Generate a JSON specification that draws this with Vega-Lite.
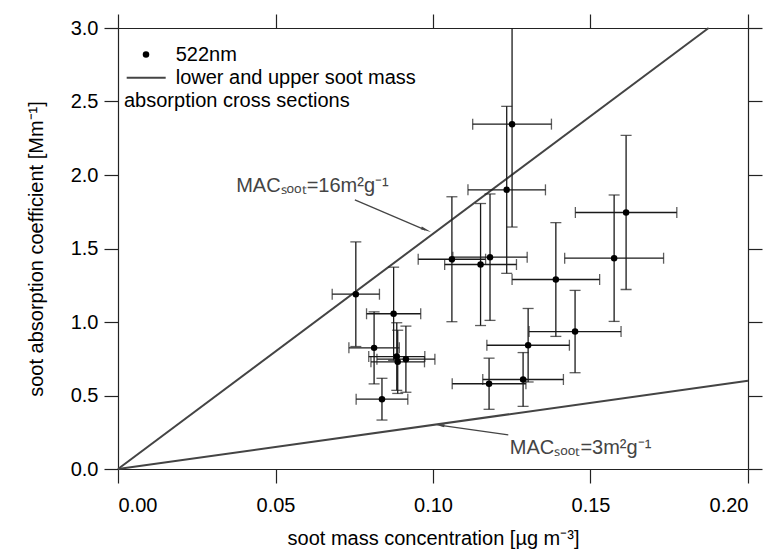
{
  "$schema": "https://vega.github.io/schema/vega-lite/v6.json",
  "width": 630,
  "height": 441,
  "autosize": {"type": "none"},
  "padding": {"left": 118, "top": 28, "right": 23, "bottom": 83},
  "background": "white",
  "config": {
    "view": {"stroke": null},
    "font": "Liberation Sans",
    "axis": {
      "domainColor": "#222",
      "tickColor": "#222",
      "domainWidth": 1.2,
      "tickWidth": 1.2,
      "tickSize": 14,
      "grid": false,
      "labelFont": "Liberation Sans",
      "titleFont": "Liberation Sans",
      "labelFontSize": 20,
      "titleFontSize": 20,
      "titleFontWeight": "normal",
      "labelColor": "#000",
      "titleColor": "#000"
    }
  },
  "datasets": {
    "pts": [
      {"x": 0.0755, "y": 1.189, "xerr": 0.0075, "yerr": 0.356},
      {"x": 0.0875, "y": 1.056, "xerr": 0.0086, "yerr": 0.317},
      {"x": 0.0813, "y": 0.824, "xerr": 0.008, "yerr": 0.245},
      {"x": 0.0838, "y": 0.475, "xerr": 0.0082, "yerr": 0.142},
      {"x": 0.0885, "y": 0.765, "xerr": 0.0089, "yerr": 0.23},
      {"x": 0.0888, "y": 0.729, "xerr": 0.0085, "yerr": 0.215},
      {"x": 0.0914, "y": 0.747, "xerr": 0.0092, "yerr": 0.225},
      {"x": 0.1251, "y": 2.346, "xerr": 0.0125, "yerr": 0.7},
      {"x": 0.1234, "y": 1.899, "xerr": 0.0123, "yerr": 0.568},
      {"x": 0.106, "y": 1.427, "xerr": 0.0107, "yerr": 0.425},
      {"x": 0.1151, "y": 1.391, "xerr": 0.0114, "yerr": 0.415},
      {"x": 0.1181, "y": 1.441, "xerr": 0.0118, "yerr": 0.43},
      {"x": 0.139, "y": 1.289, "xerr": 0.0139, "yerr": 0.387},
      {"x": 0.1575, "y": 1.434, "xerr": 0.0157, "yerr": 0.43},
      {"x": 0.1613, "y": 1.745, "xerr": 0.0161, "yerr": 0.524},
      {"x": 0.1451, "y": 0.935, "xerr": 0.0146, "yerr": 0.28},
      {"x": 0.1302, "y": 0.842, "xerr": 0.0131, "yerr": 0.25},
      {"x": 0.1178, "y": 0.58, "xerr": 0.0117, "yerr": 0.174},
      {"x": 0.1286, "y": 0.609, "xerr": 0.0128, "yerr": 0.183}
    ],
    "mac": [
      {"series": "16", "x": 0, "y": 0},
      {"series": "16", "x": 0.1875, "y": 3.0},
      {"series": "3", "x": 0, "y": 0},
      {"series": "3", "x": 0.2, "y": 0.6}
    ]
  },
  "resolve": {"axis": {"x": "independent", "y": "independent"}},
  "layer": [
    {
      "data": {"name": "mac"},
      "mark": {"type": "line", "color": "#444", "strokeWidth": 2},
      "encoding": {
        "x": {"field": "x", "type": "quantitative", "scale": {"domain": [0, 0.2], "nice": false},
              "axis": {"orient": "bottom", "values": [0, 0.05, 0.1, 0.15, 0.2], "format": ".2f", "labelPadding": 12, "titlePadding": 13, "title": "soot mass concentration [µg m⁻³]"}},
        "y": {"field": "y", "type": "quantitative", "scale": {"domain": [0, 3], "nice": false},
              "axis": {"orient": "left", "values": [0, 0.5, 1, 1.5, 2, 2.5, 3], "format": ".1f", "labelPadding": 6, "titlePadding": 24, "title": "soot absorption coefficient [Mm⁻¹]"}},
        "detail": {"field": "series"}
      }
    },
    {
      "data": {"name": "mac"},
      "mark": {"type": "line", "opacity": 0},
      "encoding": {
        "x": {"field": "x", "type": "quantitative", "scale": {"domain": [0, 0.2], "nice": false},
              "axis": {"orient": "top", "values": [0, 0.05, 0.1, 0.15, 0.2], "labels": false, "title": null}},
        "y": {"field": "y", "type": "quantitative", "scale": {"domain": [0, 3], "nice": false},
              "axis": {"orient": "right", "values": [0, 0.5, 1, 1.5, 2, 2.5, 3], "labels": false, "title": null}},
        "detail": {"field": "series"}
      }
    },
    {
      "data": {"name": "pts"},
      "mark": {"type": "errorbar", "color": "#1a1a1a", "thickness": 1.3, "ticks": {"size": 11, "thickness": 1.3, "color": "#1a1a1a"}},
      "encoding": {
        "x": {"field": "x", "type": "quantitative", "scale": {"domain": [0, 0.2], "nice": false}, "axis": null},
        "xError": {"field": "xerr"},
        "y": {"field": "y", "type": "quantitative", "scale": {"domain": [0, 3], "nice": false}, "axis": null}
      }
    },
    {
      "data": {"name": "pts"},
      "mark": {"type": "errorbar", "clip": true, "color": "#1a1a1a", "thickness": 1.3, "ticks": {"size": 11, "thickness": 1.3, "color": "#1a1a1a"}},
      "encoding": {
        "y": {"field": "y", "type": "quantitative", "scale": {"domain": [0, 3], "nice": false}, "axis": null},
        "yError": {"field": "yerr"},
        "x": {"field": "x", "type": "quantitative", "scale": {"domain": [0, 0.2], "nice": false}, "axis": null}
      }
    },
    {
      "data": {"name": "pts"},
      "mark": {"type": "point", "filled": true, "color": "#000", "opacity": 1, "size": 42},
      "encoding": {
        "x": {"field": "x", "type": "quantitative", "axis": null},
        "y": {"field": "y", "type": "quantitative", "axis": null}
      }
    },
    {
      "data": {"values": [{"x": 0.00889, "y": 2.82}]},
      "mark": {"type": "point", "filled": true, "color": "#000", "opacity": 1, "size": 42},
      "encoding": {
        "x": {"field": "x", "type": "quantitative", "axis": null},
        "y": {"field": "y", "type": "quantitative", "axis": null}
      }
    },
    {
      "data": {"values": [{"x": 0.00276, "x2": 0.01514, "y": 2.661}]},
      "mark": {"type": "rule", "color": "#444", "strokeWidth": 2},
      "encoding": {
        "x": {"field": "x", "type": "quantitative", "axis": null},
        "x2": {"field": "x2"},
        "y": {"field": "y", "type": "quantitative", "axis": null}
      }
    },
    {
      "data": {"values": [
        {"x": 0.01832, "y": 2.774, "label": "522nm"},
        {"x": 0.01832, "y": 2.62, "label": "lower and upper soot mass"},
        {"x": 0.0019, "y": 2.461, "label": "absorption cross sections"}
      ]},
      "mark": {"type": "text", "align": "left", "baseline": "alphabetic", "fontSize": 20, "font": "Liberation Sans", "color": "#000"},
      "encoding": {
        "x": {"field": "x", "type": "quantitative", "axis": null},
        "y": {"field": "y", "type": "quantitative", "axis": null},
        "text": {"field": "label"}
      }
    },
    {
      "data": {"values": [
        {"x": 0.0375, "y": 1.883, "label": "MACₛₒₒₜ=16m²g⁻¹"},
        {"x": 0.1244, "y": 0.1054, "label": "MACₛₒₒₜ=3m²g⁻¹"}
      ]},
      "mark": {"type": "text", "align": "left", "baseline": "alphabetic", "fontSize": 20, "font": "Liberation Sans", "color": "#444"},
      "encoding": {
        "x": {"field": "x", "type": "quantitative", "axis": null},
        "y": {"field": "y", "type": "quantitative", "axis": null},
        "text": {"field": "label"}
      }
    },
    {
      "data": {"values": [
        {"x": 0.0752, "y": 1.831, "x2": 0.0975, "y2": 1.627},
        {"x": 0.1239, "y": 0.2327, "x2": 0.1025, "y2": 0.297}
      ]},
      "mark": {"type": "rule", "color": "#444", "strokeWidth": 1.2},
      "encoding": {
        "x": {"field": "x", "type": "quantitative", "axis": null},
        "y": {"field": "y", "type": "quantitative", "axis": null},
        "x2": {"field": "x2"},
        "y2": {"field": "y2"}
      }
    },
    {
      "data": {"values": [{"x": 0.0973, "y": 1.631}]},
      "mark": {"type": "point", "shape": "wedge", "filled": true, "color": "#444", "opacity": 1, "size": 150, "angle": 112.9},
      "encoding": {
        "x": {"field": "x", "type": "quantitative", "axis": null},
        "y": {"field": "y", "type": "quantitative", "axis": null}
      }
    },
    {
      "data": {"values": [{"x": 0.1025, "y": 0.297}]},
      "mark": {"type": "point", "shape": "wedge", "filled": true, "color": "#444", "opacity": 1, "size": 150, "angle": 278},
      "encoding": {
        "x": {"field": "x", "type": "quantitative", "axis": null},
        "y": {"field": "y", "type": "quantitative", "axis": null}
      }
    }
  ]
}
